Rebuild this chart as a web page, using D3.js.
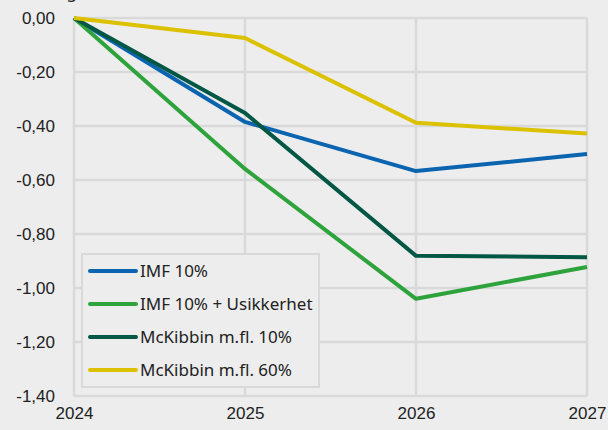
<!DOCTYPE html>
<html>
<head>
<meta charset="utf-8">
<script src="https://cdn.jsdelivr.net/npm/d3@7"></script>
<style>
  html, body { margin: 0; padding: 0; background: #ededed; }
  svg { display: block; font-family: "Noto Sans", "Open Sans", sans-serif; }
</style>
</head>
<body>
<div id="chart"></div>
<script>
// data
const years = [2024, 2025, 2026, 2027];
const yTicks = [0, -0.2, -0.4, -0.6, -0.8, -1.0, -1.2, -1.4];
const seriesNames = ['IMF 10%', 'IMF 10% + Usikkerhet', 'McKibbin m.fl. 10%', 'McKibbin m.fl. 60%'];
const seriesColors = ['#0a64b0', '#2ea33b', '#005744', '#dcc100'];
const imf10 = [0, -0.385, -0.567, -0.504];
const imfUsikkerhet = [0, -0.559, -1.04, -0.922];
const mckibbin10 = [0, -0.352, -0.881, -0.886];
const mckibbin60 = [0, -0.074, -0.388, -0.428];
const seriesValues = [imf10, imfUsikkerhet, mckibbin10, mckibbin60];

const width = 608, height = 430;
const margin = { left: 74, top: 18, right: 21, bottom: 34 };

const svg = d3.select('#chart').append('svg')
  .attr('width', width)
  .attr('height', height);

svg.append('rect').attr('width', width).attr('height', height).attr('fill', '#ededed');

const x = d3.scaleLinear()
  .domain([2024, 2027])
  .range([margin.left, width - margin.right]);

const y = d3.scaleLinear()
  .domain([0, -1.4])
  .range([margin.top, height - margin.bottom]);

// unit label, cut off at the top like in the original
svg.append('text')
  .attr('x', 77).attr('y', -2)
  .attr('text-anchor', 'end')
  .attr('font-size', 17)
  .attr('fill', '#222')
  .text('Prosentendring');

// grid
svg.append('g').selectAll('line')
  .data(yTicks)
  .join('line')
  .attr('x1', x(2024)).attr('x2', x(2027))
  .attr('y1', d => y(d)).attr('y2', d => y(d))
  .attr('stroke', '#d9d9d9').attr('stroke-width', 2.5);

svg.append('g').selectAll('line')
  .data(years)
  .join('line')
  .attr('x1', d => x(d)).attr('x2', d => x(d))
  .attr('y1', y(0)).attr('y2', y(-1.4))
  .attr('stroke', '#d9d9d9').attr('stroke-width', 2.5);

const fmt = d => d3.format('.2f')(d).replace('.', ',').replace('−', '-');

const yAxis = d3.axisLeft(y).tickValues(yTicks).tickSize(0).tickPadding(19).tickFormat(fmt);
const yg = svg.append('g')
  .attr('transform', 'translate(' + margin.left + ',0)')
  .call(yAxis);
yg.select('.domain').remove();
yg.selectAll('text').attr('font-size', 17).attr('fill', '#222').attr('font-family', null);

const xAxis = d3.axisBottom(x).tickValues(years).tickSize(0).tickPadding(11).tickFormat(d3.format('d'));
const xg = svg.append('g')
  .attr('transform', 'translate(0,' + y(-1.4) + ')')
  .call(xAxis);
xg.select('.domain').remove();
xg.selectAll('text').attr('font-size', 17).attr('fill', '#222').attr('font-family', null);

// lines
const line = d3.line()
  .x((d, i) => x(years[i]))
  .y(d => y(d));

svg.append('g').selectAll('path')
  .data(seriesValues)
  .join('path')
  .attr('d', d => line(d))
  .attr('fill', 'none')
  .attr('stroke', (d, i) => seriesColors[i])
  .attr('stroke-width', 4)
  .attr('stroke-linejoin', 'round');

// legend
const legend = svg.append('g').attr('transform', 'translate(82,254)');
legend.append('rect')
  .attr('width', 237).attr('height', 133)
  .attr('fill', '#ededed')
  .attr('stroke', '#d9d9d9').attr('stroke-width', 2);

const item = legend.selectAll('g.item')
  .data(seriesNames)
  .join('g')
  .attr('class', 'item')
  .attr('transform', (d, i) => 'translate(0,' + (17 + i * 33) + ')');

item.append('line')
  .attr('x1', 8).attr('x2', 54)
  .attr('stroke', (d, i) => seriesColors[i])
  .attr('stroke-width', 4)
  .attr('stroke-linecap', 'round');

item.append('text')
  .attr('x', 58).attr('dy', '0.35em')
  .attr('font-size', 17)
  .attr('fill', '#222')
  .text(d => d);
</script>
</body>
</html>
